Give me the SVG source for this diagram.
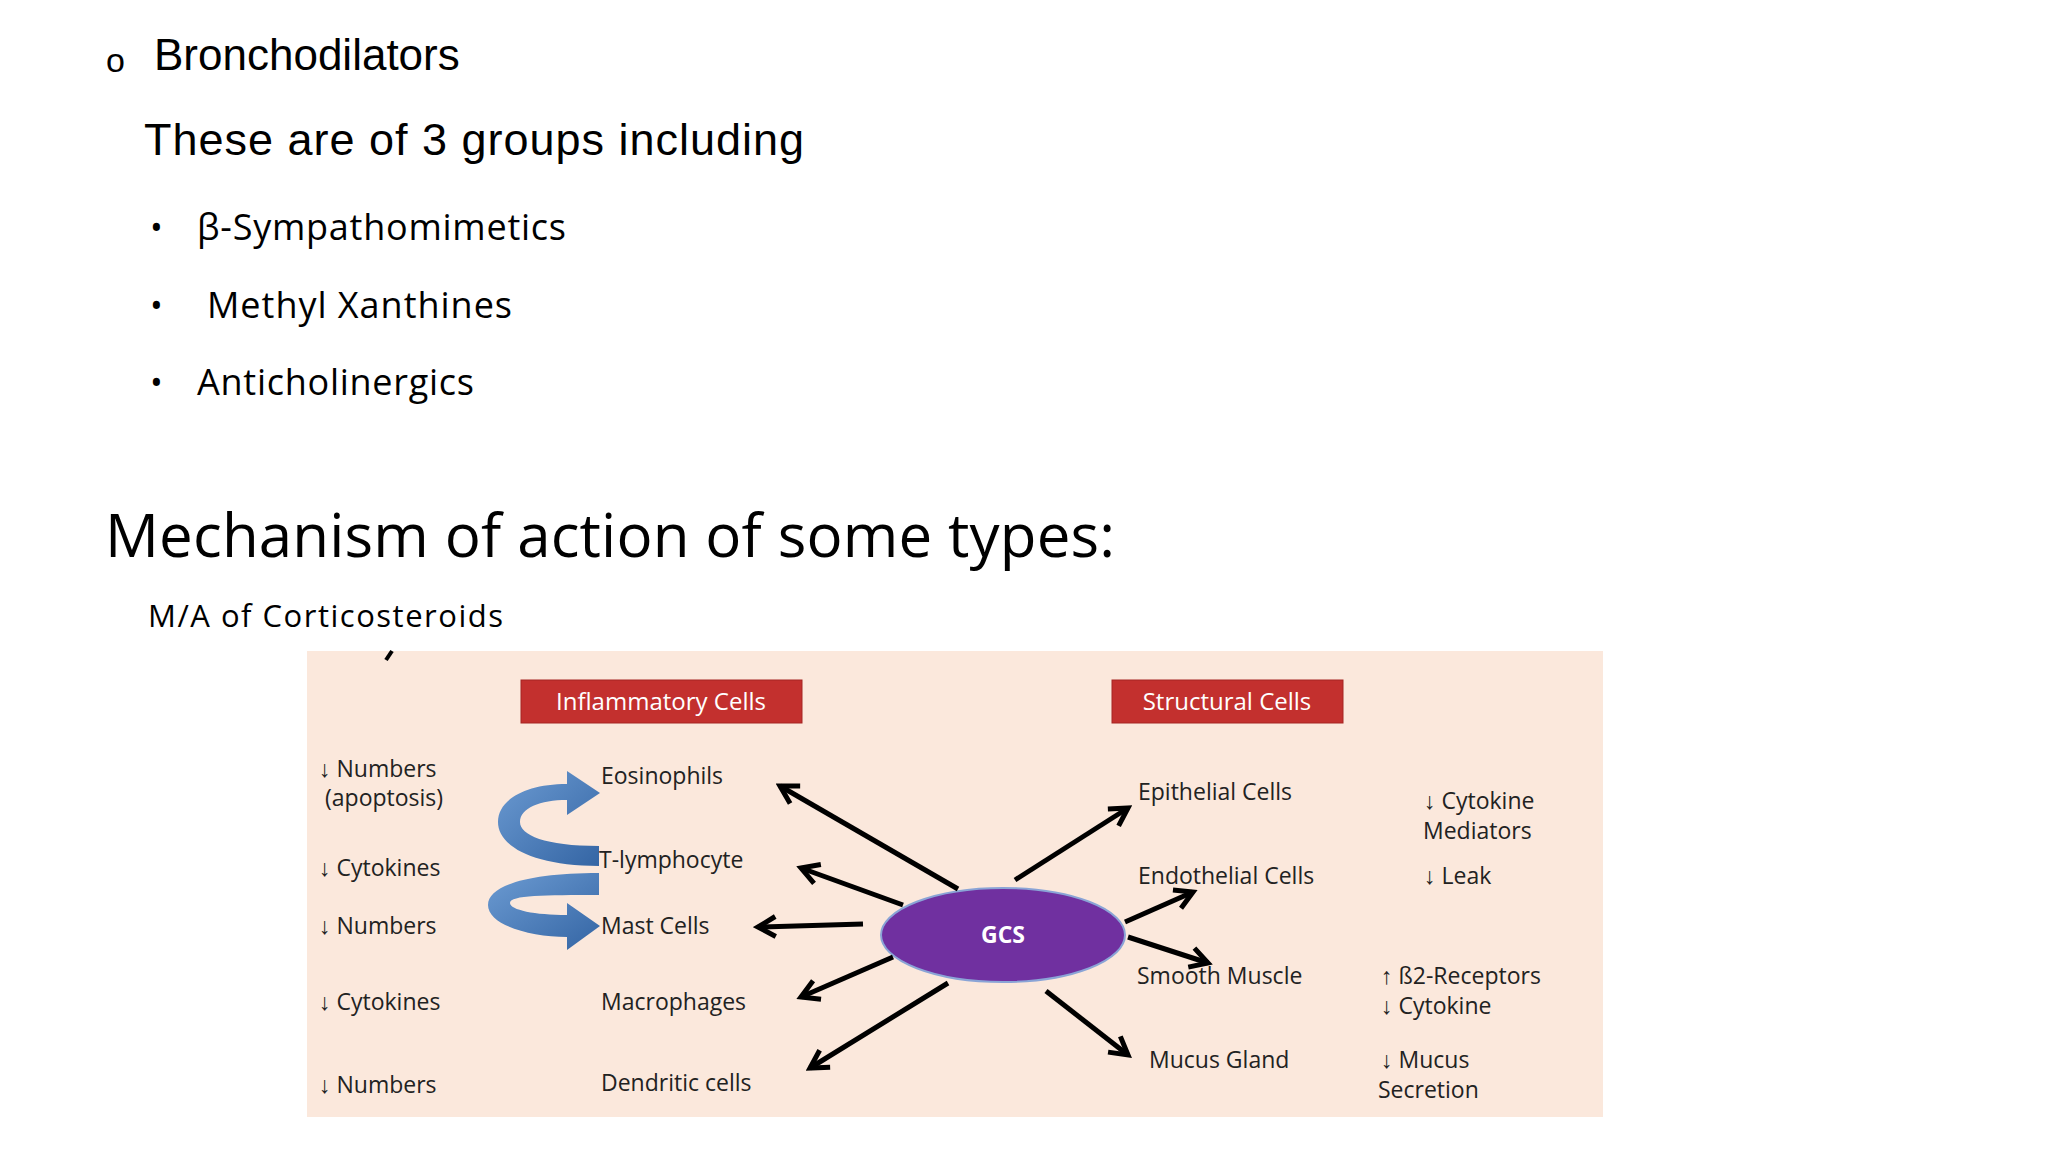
<svg xmlns="http://www.w3.org/2000/svg" width="2048" height="1152" viewBox="0 0 2048 1152">
<style>
.s{font-family:"Liberation Sans",Arial,sans-serif;fill:#000}
.c{font-family:"Open Sans","Noto Sans",sans-serif;fill:#000}
.d{font-family:"Open Sans","Noto Sans",sans-serif;font-size:23px;fill:#222}
.h{font-family:"Open Sans","Noto Sans",sans-serif;font-size:24px;fill:#fff}
.a{stroke:#000;stroke-width:5;fill:none;marker-end:url(#m)}
</style>
<defs>
<marker id="m" viewBox="0 0 10 10" refX="8" refY="5" markerWidth="5" markerHeight="5" orient="auto" markerUnits="strokeWidth">
<path d="M1,1 L8,5 L1,9" fill="none" stroke="#000" stroke-width="2"/>
</marker>
<linearGradient id="b" x1="0" y1="0" x2="1" y2="1"><stop offset="0" stop-color="#6c9bd2"/><stop offset="1" stop-color="#3465a4"/></linearGradient>
</defs>
<rect width="2048" height="1152" fill="#fff"/>
<text class="s" x="106" y="72" font-size="34">o</text>
<text class="s" x="154" y="70" font-size="44">Bronchodilators</text>
<text class="s" x="144" y="155" font-size="45" textLength="660">These are of 3 groups including</text>
<text class="c" x="150" y="240" font-size="34">•</text>
<text class="c" x="197" y="240" font-size="36" textLength="369">β-Sympathomimetics</text>
<text class="c" x="150" y="318" font-size="34">•</text>
<text class="c" x="207" y="318" font-size="36" textLength="305">Methyl Xanthines</text>
<text class="c" x="150" y="395" font-size="34">•</text>
<text class="c" x="197" y="395" font-size="36" textLength="277">Anticholinergics</text>
<text class="c" x="105" y="557" font-size="60" textLength="1010">Mechanism of action of some types:</text>
<text class="c" x="148" y="627" font-size="31" textLength="355">M/A of Corticosteroids</text>
<rect x="307" y="651" width="1296" height="466" fill="#fbe8dc"/>
<path d="M392,651 L386,660" stroke="#000" stroke-width="4"/>
<g id="inflam"><rect x="521" y="680" width="281" height="43" fill="#c3302e" stroke="#a52422"/><text class="h" x="661" y="710" text-anchor="middle">Inflammatory Cells</text></g>
<g id="struct"><rect x="1112" y="680" width="231" height="43" fill="#c3302e" stroke="#a52422"/><text class="h" x="1227" y="710" text-anchor="middle">Structural Cells</text></g>
<g id="left">
<text class="d" x="319" y="777">↓ Numbers</text><text class="d" x="325" y="806">(apoptosis)</text>
<text class="d" x="319" y="876">↓ Cytokines</text>
<text class="d" x="319" y="934">↓ Numbers</text>
<text class="d" x="319" y="1010">↓ Cytokines</text>
<text class="d" x="319" y="1093">↓ Numbers</text>
</g>
<g id="blue">
<path d="M599,846 C545,846 520,835 520,822 C520,808 540,800 567,800 L567,815 L600,793 L567,771 L567,784 C525,784 498,800 498,822 C498,845 530,866 599,866 Z" fill="url(#b)"/>
<path d="M599,873 C530,873 488,885 488,905 C488,925 530,937 567,937 L567,950 L600,926 L567,903 L567,915 C535,915 510,910 510,903 C510,895 545,895 599,895 Z" fill="url(#b)"/>
</g>
<g id="eos"><text class="d" x="601" y="784">Eosinophils</text></g>
<g id="tly"><text class="d" x="599" y="868">T-lymphocyte</text></g>
<g id="mast"><text class="d" x="601" y="934">Mast Cells</text></g>
<g id="macro"><text class="d" x="601" y="1010">Macrophages</text></g>
<g id="dend"><text class="d" x="601" y="1091">Dendritic cells</text></g>
<g id="epi"><text class="d" x="1138" y="800">Epithelial Cells</text></g>
<g id="endo"><text class="d" x="1138" y="884">Endothelial Cells</text></g>
<g id="smooth"><text class="d" x="1137" y="984">Smooth Muscle</text></g>
<g id="mucus"><text class="d" x="1149" y="1068">Mucus Gland</text></g>
<g id="right">
<text class="d" x="1424" y="809">↓ Cytokine</text><text class="d" x="1423" y="839">Mediators</text>
<text class="d" x="1424" y="884">↓ Leak</text>
<text class="d" x="1381" y="984">↑ ß2-Receptors</text><text class="d" x="1381" y="1014">↓ Cytokine</text>
<text class="d" x="1381" y="1068">↓ Mucus</text><text class="d" x="1378" y="1098">Secretion</text>
</g>
<g id="gcs"><ellipse cx="1003" cy="935" rx="122" ry="47" fill="#7030a0" stroke="#8aa4d6" stroke-width="2"/><text x="1003" y="943" text-anchor="middle" font-family="Open Sans,sans-serif" font-weight="bold" font-size="23" fill="#fff">GCS</text></g>
<g id="connectors">
<line class="a" x1="958" y1="889" x2="780" y2="786"/>
<line class="a" x1="903" y1="905" x2="801" y2="868"/>
<line class="a" x1="863" y1="924" x2="758" y2="927"/>
<line class="a" x1="893" y1="957" x2="801" y2="997"/>
<line class="a" x1="948" y1="983" x2="810" y2="1068"/>
<line class="a" x1="1015" y1="880" x2="1128" y2="808"/>
<line class="a" x1="1125" y1="922" x2="1193" y2="892"/>
<line class="a" x1="1128" y1="937" x2="1208" y2="963"/>
<line class="a" x1="1046" y1="991" x2="1128" y2="1055"/>
</g>
</svg>
